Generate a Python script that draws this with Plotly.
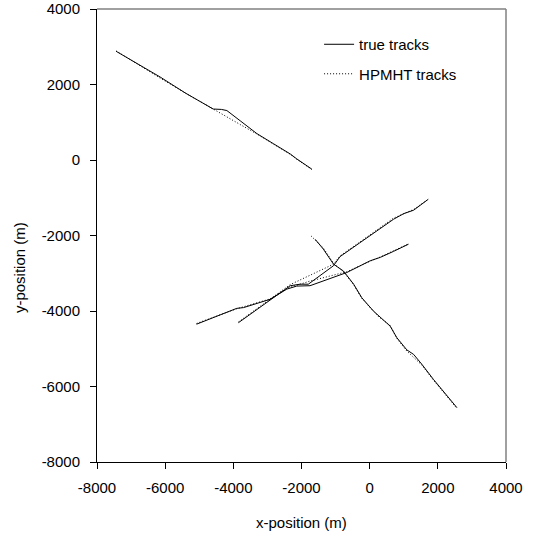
import plotly.graph_objects as go

# ---- data (metres) ----
true1_x = [-7440, -6800, -6150, -5400, -4590, -4350, -4190, -3800, -3310, -2820, -2330, -2140, -1950, -1700]
true1_y = [2880, 2540, 2200, 1770, 1350, 1340, 1310, 1040, 700, 430, 160, 30, -85, -240]
est1_x = [-7440, -6800, -6150, -5400, -4590, -3800, -3310, -2820, -2330, -2140, -1700]
est1_y = [2890, 2530, 2170, 1770, 1340, 940, 690, 420, 150, 20, -250]

true2_x = [-5080, -4500, -3900, -3700, -2920, -2430, -2140, -1750, -1200, -670, 15, 310, 700, 1140]
true2_y = [-4350, -4150, -3930, -3910, -3690, -3420, -3340, -3330, -3150, -2980, -2670, -2580, -2420, -2230]
est2_x = [-5080, -4500, -3900, -2920, -2430, -1760, -670, 15, 310, 1140]
est2_y = [-4330, -4140, -3940, -3680, -3400, -3210, -2960, -2680, -2570, -2220]

true3_x = [-3850, -3300, -2630, -2330, -2040, -1800, -1060, -870, -300, 700, 1000, 1290, 1720]
true3_y = [-4310, -3950, -3510, -3330, -3290, -3290, -2800, -2560, -2200, -1570, -1420, -1330, -1040]
est3_x = [-3850, -3300, -2630, -2330, -1060, -870, -300, 700, 1290, 1720]
est3_y = [-4290, -3940, -3500, -3300, -2760, -2540, -2180, -1540, -1310, -1040]

true4_x = [-1600, -1360, -1060, -770, -470, -230, 110, 260, 600, 800, 1090, 1290, 1530, 1870, 2200, 2560]
true4_y = [-2100, -2360, -2760, -2940, -3290, -3650, -4000, -4130, -4400, -4710, -5030, -5150, -5410, -5810, -6180, -6560]
est4_x = [-1720, -1360, -1060, -770, -470, -230, 260, 600, 800, 1090, 1530, 1870, 2560]
est4_y = [-2010, -2330, -2740, -2960, -3300, -3670, -4150, -4380, -4730, -5060, -5430, -5830, -6580]

true_tracks = [(true1_x, true1_y), (true2_x, true2_y), (true3_x, true3_y), (true4_x, true4_y)]
est_tracks = [(est1_x, est1_y), (est2_x, est2_y), (est3_x, est3_y), (est4_x, est4_y)]

tick_vals = [-8000, -6000, -4000, -2000, 0, 2000, 4000]
tick_text = [str(v) for v in tick_vals]

FONT = "Liberation Sans, Arial, sans-serif"

fig = go.Figure()
for i, (tx, ty) in enumerate(true_tracks):
    fig.add_trace(go.Scatter(x=tx, y=ty, mode="lines", name="true tracks",
                             line=dict(color="black", width=1),
                             legendgroup="true", showlegend=(i == 0)))
for i, (ex, ey) in enumerate(est_tracks):
    fig.add_trace(go.Scatter(x=ex, y=ey, mode="lines", name="HPMHT tracks",
                             line=dict(color="black", width=1, dash="1px,2px"),
                             legendgroup="est", showlegend=(i == 0)))

axis_common = dict(
    range=[-8000, 4000], tickmode="array", tickvals=tick_vals, ticktext=tick_text,
    showgrid=False, zeroline=False, showline=True, linecolor="black", linewidth=1,
    ticks="outside", ticklen=6, tickcolor="black", tickwidth=1, automargin=False,
    tickfont=dict(family=FONT, size=15, color="black"),
)

fig.update_layout(
    width=536, height=535,
    margin=dict(l=97, r=30, t=9, b=73, autoexpand=False),
    paper_bgcolor="white", plot_bgcolor="white",
    font=dict(family=FONT, size=14, color="black"),
    xaxis=dict(**axis_common, ticklabelstandoff=6),
    yaxis=dict(**axis_common, ticklabelstandoff=7),
    legend=dict(x=0.543, y=0.958, xanchor="left", yanchor="top",
                bgcolor="rgba(0,0,0,0)", font=dict(family=FONT, size=15),
                tracegroupgap=7, itemwidth=30),
    shapes=[
        dict(type="line", xref="paper", yref="paper", x0=0, x1=1, y0=1, y1=1,
             line=dict(color="#808080", width=1.5)),
        dict(type="line", xref="paper", yref="paper", x0=1, x1=1, y0=0, y1=1,
             line=dict(color="#808080", width=1.5)),
    ],
    annotations=[
        dict(text="x-position (m)", xref="paper", yref="paper", x=0.5, y=-0.1325,
             xanchor="center", yanchor="middle", showarrow=False,
             font=dict(family=FONT, size=15)),
        dict(text="y-position (m)", xref="paper", yref="paper", x=-0.191, y=0.43,
             xanchor="center", yanchor="middle", showarrow=False, textangle=-90,
             font=dict(family=FONT, size=15)),
    ],
)

fig.write_html("out.html", config={"displayModeBar": False},
               post_script="document.body.style.margin='0';")
